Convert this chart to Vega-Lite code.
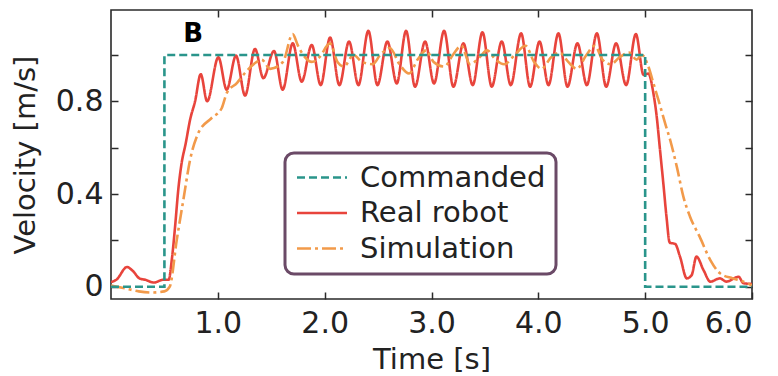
{
  "$schema": "https://vega.github.io/schema/vega-lite/v6.json",
  "width": 641,
  "height": 289,
  "autosize": {"type": "none"},
  "padding": {"left": 111, "top": 10, "right": 26, "bottom": 77},
  "background": "white",
  "config": {
    "view": {"stroke": "#2a2a2a", "strokeWidth": 1.6},
    "font": "DejaVu Sans",
    "axis": {"domain": false, "grid": false, "tickColor": "#2a2a2a", "tickWidth": 1.5, "tickSize": -7, "labelFont": "DejaVu Sans", "labelFontSize": 30, "labelColor": "#222", "titleFont": "DejaVu Sans", "titleFontSize": 29, "titleFontWeight": "normal", "titleColor": "#222"},
    "legend": {
      "orient": "none", "legendX": 174, "legendY": 143,
      "strokeColor": "#6b4a67", "strokeWidth": 3, "cornerRadius": 9, "fillColor": "white",
      "padding": 10, "labelFont": "DejaVu Sans", "labelFontSize": 29, "labelColor": "#222", "labelLimit": 0,
      "symbolType": "M-1,0H3", "symbolSize": 625, "symbolStrokeWidth": 2.5, "labelOffset": 36, "rowPadding": 5.5
    }
  },
  "data": {"values": [
    {"t": 0.0, "v": 0.0, "s": "Commanded"},
    {"t": 0.5, "v": 1.0, "s": "Commanded"},
    {"t": 5.0, "v": 0.0, "s": "Commanded"},
    {"t": 6.0, "v": 0.0, "s": "Commanded"},

    {"t": 0.0, "v": 0.02, "s": "Real robot"},
    {"t": 0.05, "v": 0.03, "s": "Real robot"},
    {"t": 0.15, "v": 0.085, "s": "Real robot"},
    {"t": 0.2, "v": 0.07, "s": "Real robot"},
    {"t": 0.27, "v": 0.035, "s": "Real robot"},
    {"t": 0.32, "v": 0.03, "s": "Real robot"},
    {"t": 0.4, "v": 0.018, "s": "Real robot"},
    {"t": 0.49, "v": 0.03, "s": "Real robot"},
    {"t": 0.54, "v": 0.03, "s": "Real robot"},
    {"t": 0.57, "v": 0.12, "s": "Real robot"},
    {"t": 0.6, "v": 0.26, "s": "Real robot"},
    {"t": 0.63, "v": 0.42, "s": "Real robot"},
    {"t": 0.66, "v": 0.53, "s": "Real robot"},
    {"t": 0.7, "v": 0.62, "s": "Real robot"},
    {"t": 0.74, "v": 0.72, "s": "Real robot"},
    {"t": 0.787, "v": 0.8, "s": "Real robot"},
    {"t": 0.84, "v": 0.917, "s": "Real robot"},
    {"t": 0.9, "v": 0.8, "s": "Real robot"},
    {"t": 1.005, "v": 0.99, "s": "Real robot"},
    {"t": 1.083, "v": 0.85, "s": "Real robot"},
    {"t": 1.17, "v": 0.997, "s": "Real robot"},
    {"t": 1.255, "v": 0.825, "s": "Real robot"},
    {"t": 1.348, "v": 1.026, "s": "Real robot"},
    {"t": 1.426, "v": 0.9, "s": "Real robot"},
    {"t": 1.526, "v": 1.017, "s": "Real robot"},
    {"t": 1.607, "v": 0.85, "s": "Real robot"},
    {"t": 1.701, "v": 1.05, "s": "Real robot"},
    {"t": 1.785, "v": 0.885, "s": "Real robot"},
    {"t": 1.879, "v": 1.043, "s": "Real robot"},
    {"t": 1.963, "v": 0.87, "s": "Real robot"},
    {"t": 2.051, "v": 1.075, "s": "Real robot"},
    {"t": 2.138, "v": 0.87, "s": "Real robot"},
    {"t": 2.228, "v": 1.058, "s": "Real robot"},
    {"t": 2.316, "v": 0.87, "s": "Real robot"},
    {"t": 2.409, "v": 1.104, "s": "Real robot"},
    {"t": 2.494, "v": 0.87, "s": "Real robot"},
    {"t": 2.587, "v": 1.058, "s": "Real robot"},
    {"t": 2.675, "v": 0.877, "s": "Real robot"},
    {"t": 2.762, "v": 1.104, "s": "Real robot"},
    {"t": 2.846, "v": 0.863, "s": "Real robot"},
    {"t": 2.94, "v": 1.058, "s": "Real robot"},
    {"t": 3.024, "v": 0.877, "s": "Real robot"},
    {"t": 3.118, "v": 1.104, "s": "Real robot"},
    {"t": 3.205, "v": 0.863, "s": "Real robot"},
    {"t": 3.299, "v": 1.05, "s": "Real robot"},
    {"t": 3.386, "v": 0.87, "s": "Real robot"},
    {"t": 3.477, "v": 1.098, "s": "Real robot"},
    {"t": 3.564, "v": 0.863, "s": "Real robot"},
    {"t": 3.658, "v": 1.058, "s": "Real robot"},
    {"t": 3.742, "v": 0.87, "s": "Real robot"},
    {"t": 3.839, "v": 1.093, "s": "Real robot"},
    {"t": 3.923, "v": 0.863, "s": "Real robot"},
    {"t": 4.011, "v": 1.058, "s": "Real robot"},
    {"t": 4.095, "v": 0.87, "s": "Real robot"},
    {"t": 4.188, "v": 1.093, "s": "Real robot"},
    {"t": 4.273, "v": 0.863, "s": "Real robot"},
    {"t": 4.366, "v": 1.05, "s": "Real robot"},
    {"t": 4.454, "v": 0.87, "s": "Real robot"},
    {"t": 4.548, "v": 1.093, "s": "Real robot"},
    {"t": 4.635, "v": 0.863, "s": "Real robot"},
    {"t": 4.728, "v": 1.05, "s": "Real robot"},
    {"t": 4.822, "v": 0.87, "s": "Real robot"},
    {"t": 4.913, "v": 1.09, "s": "Real robot"},
    {"t": 4.985, "v": 0.914, "s": "Real robot"},
    {"t": 5.03, "v": 0.92, "s": "Real robot"},
    {"t": 5.077, "v": 0.835, "s": "Real robot"},
    {"t": 5.108, "v": 0.734, "s": "Real robot"},
    {"t": 5.139, "v": 0.59, "s": "Real robot"},
    {"t": 5.17, "v": 0.446, "s": "Real robot"},
    {"t": 5.2, "v": 0.3, "s": "Real robot"},
    {"t": 5.23, "v": 0.19, "s": "Real robot"},
    {"t": 5.28, "v": 0.185, "s": "Real robot"},
    {"t": 5.326, "v": 0.13, "s": "Real robot"},
    {"t": 5.39, "v": 0.036, "s": "Real robot"},
    {"t": 5.435, "v": 0.05, "s": "Real robot"},
    {"t": 5.48, "v": 0.13, "s": "Real robot"},
    {"t": 5.546, "v": 0.072, "s": "Real robot"},
    {"t": 5.61, "v": 0.022, "s": "Real robot"},
    {"t": 5.7, "v": 0.036, "s": "Real robot"},
    {"t": 5.76, "v": 0.022, "s": "Real robot"},
    {"t": 5.874, "v": 0.043, "s": "Real robot"},
    {"t": 5.92, "v": 0.015, "s": "Real robot"},
    {"t": 6.0, "v": 0.012, "s": "Real robot"},

    {"t": 0.0, "v": 0.005, "s": "Simulation"},
    {"t": 0.13, "v": -0.007, "s": "Simulation"},
    {"t": 0.26, "v": -0.02, "s": "Simulation"},
    {"t": 0.38, "v": -0.025, "s": "Simulation"},
    {"t": 0.5, "v": -0.02, "s": "Simulation"},
    {"t": 0.55, "v": 0.0, "s": "Simulation"},
    {"t": 0.615, "v": 0.2, "s": "Simulation"},
    {"t": 0.677, "v": 0.374, "s": "Simulation"},
    {"t": 0.74, "v": 0.547, "s": "Simulation"},
    {"t": 0.817, "v": 0.663, "s": "Simulation"},
    {"t": 0.94, "v": 0.727, "s": "Simulation"},
    {"t": 1.036, "v": 0.77, "s": "Simulation"},
    {"t": 1.083, "v": 0.835, "s": "Simulation"},
    {"t": 1.18, "v": 0.88, "s": "Simulation"},
    {"t": 1.25, "v": 0.92, "s": "Simulation"},
    {"t": 1.364, "v": 0.97, "s": "Simulation"},
    {"t": 1.41, "v": 0.98, "s": "Simulation"},
    {"t": 1.49, "v": 0.94, "s": "Simulation"},
    {"t": 1.61, "v": 0.97, "s": "Simulation"},
    {"t": 1.7, "v": 1.09, "s": "Simulation"},
    {"t": 1.75, "v": 1.04, "s": "Simulation"},
    {"t": 1.8, "v": 1.0, "s": "Simulation"},
    {"t": 1.88, "v": 0.97, "s": "Simulation"},
    {"t": 1.95, "v": 0.99, "s": "Simulation"},
    {"t": 2.05, "v": 1.05, "s": "Simulation"},
    {"t": 2.12, "v": 0.97, "s": "Simulation"},
    {"t": 2.18, "v": 0.95, "s": "Simulation"},
    {"t": 2.27, "v": 1.0, "s": "Simulation"},
    {"t": 2.35, "v": 0.97, "s": "Simulation"},
    {"t": 2.45, "v": 0.96, "s": "Simulation"},
    {"t": 2.52, "v": 1.0, "s": "Simulation"},
    {"t": 2.61, "v": 1.03, "s": "Simulation"},
    {"t": 2.7, "v": 0.96, "s": "Simulation"},
    {"t": 2.79, "v": 0.92, "s": "Simulation"},
    {"t": 2.87, "v": 0.98, "s": "Simulation"},
    {"t": 2.95, "v": 1.02, "s": "Simulation"},
    {"t": 3.02, "v": 0.97, "s": "Simulation"},
    {"t": 3.12, "v": 0.95, "s": "Simulation"},
    {"t": 3.2, "v": 1.0, "s": "Simulation"},
    {"t": 3.28, "v": 1.04, "s": "Simulation"},
    {"t": 3.36, "v": 0.96, "s": "Simulation"},
    {"t": 3.45, "v": 0.99, "s": "Simulation"},
    {"t": 3.52, "v": 1.02, "s": "Simulation"},
    {"t": 3.6, "v": 0.98, "s": "Simulation"},
    {"t": 3.68, "v": 0.96, "s": "Simulation"},
    {"t": 3.78, "v": 1.0, "s": "Simulation"},
    {"t": 3.88, "v": 1.04, "s": "Simulation"},
    {"t": 3.96, "v": 0.97, "s": "Simulation"},
    {"t": 4.03, "v": 0.94, "s": "Simulation"},
    {"t": 4.12, "v": 0.99, "s": "Simulation"},
    {"t": 4.2, "v": 1.01, "s": "Simulation"},
    {"t": 4.28, "v": 0.97, "s": "Simulation"},
    {"t": 4.36, "v": 0.94, "s": "Simulation"},
    {"t": 4.45, "v": 1.0, "s": "Simulation"},
    {"t": 4.53, "v": 1.04, "s": "Simulation"},
    {"t": 4.6, "v": 0.98, "s": "Simulation"},
    {"t": 4.68, "v": 0.96, "s": "Simulation"},
    {"t": 4.76, "v": 0.99, "s": "Simulation"},
    {"t": 4.85, "v": 1.01, "s": "Simulation"},
    {"t": 4.92, "v": 0.98, "s": "Simulation"},
    {"t": 4.97, "v": 1.0, "s": "Simulation"},
    {"t": 5.03, "v": 0.95, "s": "Simulation"},
    {"t": 5.077, "v": 0.878, "s": "Simulation"},
    {"t": 5.124, "v": 0.806, "s": "Simulation"},
    {"t": 5.187, "v": 0.705, "s": "Simulation"},
    {"t": 5.234, "v": 0.633, "s": "Simulation"},
    {"t": 5.296, "v": 0.518, "s": "Simulation"},
    {"t": 5.358, "v": 0.388, "s": "Simulation"},
    {"t": 5.42, "v": 0.302, "s": "Simulation"},
    {"t": 5.51, "v": 0.216, "s": "Simulation"},
    {"t": 5.61, "v": 0.115, "s": "Simulation"},
    {"t": 5.7, "v": 0.058, "s": "Simulation"},
    {"t": 5.82, "v": 0.036, "s": "Simulation"},
    {"t": 5.92, "v": 0.022, "s": "Simulation"},
    {"t": 6.0, "v": 0.005, "s": "Simulation"}
  ]},
  "encoding": {
    "color": {"field": "s", "type": "nominal", "title": null,
      "scale": {"domain": ["Commanded", "Real robot", "Simulation"], "range": ["#2a958b", "#e8443c", "#f29a4a"]}},
    "strokeDash": {"field": "s", "type": "nominal", "title": null,
      "scale": {"domain": ["Commanded", "Real robot", "Simulation"], "range": [[8, 4], [1, 0], [14, 4, 3, 4]]}}
  },
  "layer": [
    {
      "transform": [{"filter": "datum.s === 'Real robot'"}],
      "mark": {"type": "line", "interpolate": "monotone", "strokeWidth": 2.6, "clip": true},
      "encoding": {
        "x": {"field": "t", "type": "quantitative", "scale": {"domain": [0, 6], "nice": false, "zero": false},
          "axis": {"orient": "bottom", "values": [1, 2, 3, 4, 5, 6], "format": ".1f", "labelPadding": 16, "title": "Time [s]", "titleY": 69, "titleBaseline": "alphabetic"}},
        "y": {"field": "v", "type": "quantitative", "scale": {"domain": [-0.053, 1.194], "nice": false, "zero": false},
          "axis": {"orient": "left", "values": [0, 0.2, 0.4, 0.6, 0.8, 1.0], "labelPadding": 15, "labelBaseline": "middle",
            "labelExpr": "datum.value == 0 ? '0' : (abs(datum.value - 0.4) < 0.01 ? '0.4' : (abs(datum.value - 0.8) < 0.01 ? '0.8' : ''))",
            "title": "Velocity [m/s]", "titleX": -77, "titleY": 144.5, "titleAngle": -90, "titleBaseline": "alphabetic", "titleAlign": "center"}}
      }
    },
    {
      "transform": [{"filter": "datum.s === 'Simulation'"}],
      "mark": {"type": "line", "interpolate": "monotone", "strokeWidth": 2.6, "clip": true},
      "encoding": {
        "x": {"field": "t", "type": "quantitative", "axis": {"orient": "top", "values": [1, 2, 3, 4, 5], "labels": false, "title": null}},
        "y": {"field": "v", "type": "quantitative", "axis": {"orient": "right", "values": [0, 0.2, 0.4, 0.6, 0.8, 1.0], "labels": false, "title": null}}
      }
    },
    {
      "transform": [{"filter": "datum.s === 'Commanded'"}],
      "mark": {"type": "line", "interpolate": "step-after", "strokeWidth": 2.6, "clip": true},
      "encoding": {
        "x": {"field": "t", "type": "quantitative", "axis": null},
        "y": {"field": "v", "type": "quantitative", "axis": null}
      }
    },
    {
      "data": {"values": [{"t": 0.768, "v": 1.09, "label": "B"}]},
      "mark": {"type": "text", "fontSize": 26, "fontWeight": "bold", "font": "DejaVu Sans", "color": "black", "align": "center", "baseline": "middle"},
      "encoding": {
        "x": {"field": "t", "type": "quantitative", "axis": null},
        "y": {"field": "v", "type": "quantitative", "axis": null},
        "text": {"field": "label"},
        "color": {"value": "black"},
        "strokeDash": {"value": [1, 0]}
      }
    }
  ]
}
